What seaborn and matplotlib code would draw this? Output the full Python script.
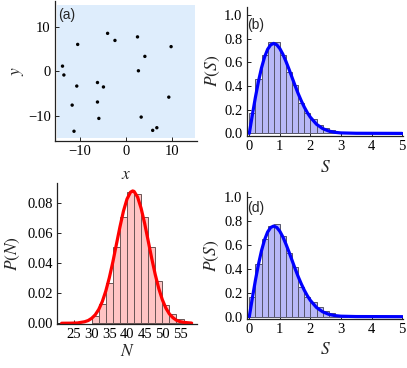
import matplotlib
matplotlib.use("Agg")
import matplotlib.pyplot as plt
from matplotlib.patches import Rectangle
import numpy as np
import seaborn as sns

# (a) positions of the points
pts_x = [-4.0, -2.4, 2.5, 9.8, -10.5, 4.1, -13.8, -13.5, 2.7, -6.2,
         -4.9, -10.7, 9.3, -11.7, -6.2, -5.9, 3.3, -11.3, 6.7, 5.8]
pts_y = [8.6, 7.0, 7.8, 5.6, 6.1, 3.4, 1.2, -0.8, 0.15, -2.5,
         -3.5, -3.3, -5.8, -7.6, -6.9, -10.6, -10.3, -13.5, -12.7, -13.3]

# (b) and (d) spacing histograms, bin width 0.2
s_edges = [0.0, 0.2, 0.4, 0.6, 0.8, 1.0, 1.2, 1.4, 1.6, 1.8, 2.0,
           2.2, 2.4, 2.6, 2.8, 3.0, 3.2]
s_hist_b = [0.169, 0.459, 0.662, 0.769, 0.769, 0.660, 0.520, 0.410,
            0.260, 0.170, 0.120, 0.073, 0.048, 0.030, 0.015, 0.006]
s_hist_d = [0.168, 0.440, 0.648, 0.760, 0.774, 0.676, 0.530, 0.413,
            0.250, 0.168, 0.126, 0.084, 0.050, 0.028, 0.012, 0.005]

# blue theory curve
s_curve = [0.0, 0.1, 0.2, 0.3, 0.4, 0.5, 0.6, 0.7, 0.8, 0.9, 1.0,
           1.1, 1.2, 1.3, 1.4, 1.5, 1.6, 1.7, 1.8, 1.9, 2.0,
           2.2, 2.4, 2.6, 2.8, 3.0, 3.5, 5.0]
p_curve = [0.0, 0.156, 0.305, 0.439, 0.554, 0.645, 0.710, 0.748, 0.760,
           0.748, 0.716, 0.668, 0.608, 0.542, 0.472, 0.402, 0.336,
           0.276, 0.222, 0.175, 0.136, 0.077, 0.041, 0.020, 0.009,
           0.004, 0.001, 0.0]

# (c) number histogram, bin width 2
n_edges = [30, 32, 34, 36, 38, 40, 42, 44, 46, 48, 50, 52, 54, 56]
n_hist = [0.0049, 0.0127, 0.0267, 0.0511, 0.0707, 0.0873, 0.0862,
          0.0707, 0.0511, 0.0284, 0.0122, 0.0060, 0.0027]

# red curve
n_curve = [21.5, 24, 26, 28, 29, 30, 31, 32, 33, 34, 35, 36, 37, 38, 39,
           40, 41, 41.6, 42, 43, 44, 45, 46, 47, 48, 49, 50, 51, 52, 53,
           54, 55, 56, 58.3]
pn_curve = [0.0, 0.00005, 0.0002, 0.0010, 0.0018, 0.0033, 0.0056, 0.0092,
            0.0144, 0.0215, 0.0304, 0.0409, 0.0526, 0.0642, 0.0748,
            0.0828, 0.0874, 0.0882, 0.0879, 0.0841, 0.0766, 0.0665,
            0.0549, 0.0432, 0.0324, 0.0231, 0.0157, 0.0101, 0.0062,
            0.0037, 0.0020, 0.0011, 0.0006, 0.0001]

sns.set_style("ticks")
plt.rcParams['font.family'] = ['Liberation Serif', 'DejaVu Serif']
plt.rcParams['mathtext.fontset'] = 'stix'
plt.rcParams['axes.edgecolor'] = '#222222'
plt.rcParams['axes.linewidth'] = 0.9

fig = plt.figure(figsize=(4.07, 3.68), dpi=100)
W, H = 407.0, 368.0


def add_axes(left, right, bottom, top):
    return fig.add_axes([left / W, (H - bottom) / H, (right - left) / W, (bottom - top) / H])


ax_a = add_axes(55, 197, 141, 1)
ax_b = add_axes(246.7, 403.3, 136, 6.7)
ax_c = add_axes(56.7, 197.3, 324.3, 183.3)
ax_d = add_axes(246.7, 403.3, 319.3, 191.7)

TICK_FS = 10.5
LAB_FS = 12.5
PANEL_FS = 10


def style(ax):
    sns.despine(ax=ax)
    ax.tick_params(direction='in', length=3, width=0.7, labelsize=TICK_FS, pad=3,
                   colors='#222222', labelcolor='black')


# panel (a)
ax_a.add_patch(Rectangle((-15, -15), 30, 30, facecolor='#deedfc', edgecolor='none', zorder=0))
sns.scatterplot(x=pts_x, y=pts_y, ax=ax_a, color='black', s=6, edgecolor='none', zorder=3)
ax_a.set_xlim(-15.43, 15.43)
ax_a.set_ylim(-15.7, 15.9)
ax_a.set_xticks([-10, 0, 10])
ax_a.set_yticks([-10, 0, 10])
ax_a.set_xlabel(r'$x$', fontsize=LAB_FS)
ax_a.set_ylabel(r'$y$', fontsize=LAB_FS)
ax_a.xaxis.set_label_coords(0.5, -0.241)
ax_a.yaxis.set_label_coords(-0.26, 0.5)
ax_a.text(0.02, 0.897, '(a)', transform=ax_a.transAxes, fontsize=PANEL_FS,
          family='Liberation Sans', va='center', ha='left')
style(ax_a)


def spacing_panel(ax, hist, label, ytop, label_y):
    centers = [(s_edges[i] + s_edges[i + 1]) / 2 for i in range(len(hist))]
    sns.histplot(x=centers, weights=hist, bins=s_edges, ax=ax, color='#b8b8f7',
                 edgecolor='#55556a', linewidth=0.7, alpha=1.0)
    sns.lineplot(x=s_curve, y=p_curve, ax=ax, color='#0000ff', lw=2.3)
    ax.set_xlim(-0.085, 5.04)
    ax.set_ylim(-0.022, ytop)
    ax.set_xticks([0, 1, 2, 3, 4, 5])
    ax.set_yticks([0.0, 0.2, 0.4, 0.6, 0.8, 1.0])
    ax.set_yticklabels(['0.0', '0.2', '0.4', '0.6', '0.8', '1.0'])
    ax.set_xlabel(r'$S$', fontsize=LAB_FS)
    ax.set_ylabel(r'$P(S)$', fontsize=LAB_FS)
    ax.text(0.005, label_y, label, transform=ax.transAxes, fontsize=PANEL_FS,
            family='Liberation Sans', va='center', ha='left')
    style(ax)


spacing_panel(ax_b, s_hist_b, '(b)', 1.07, 0.858)
ax_b.xaxis.set_label_coords(0.5, -0.247)
ax_b.yaxis.set_label_coords(-0.215, 0.5)

spacing_panel(ax_d, s_hist_d, '(d)', 1.048, 0.875)
ax_d.xaxis.set_label_coords(0.5, -0.241)
ax_d.yaxis.set_label_coords(-0.222, 0.5)

# panel (c)
n_centers = [(n_edges[i] + n_edges[i + 1]) / 2 for i in range(len(n_hist))]
sns.histplot(x=n_centers, weights=n_hist, bins=n_edges, ax=ax_c, color='#ffc4c4',
             edgecolor='#6a5555', linewidth=0.7, alpha=1.0)
sns.lineplot(x=n_curve, y=pn_curve, ax=ax_c, color='#ff0000', lw=2.3)
ax_c.set_xlim(20.1, 59.9)
ax_c.set_ylim(-0.0007, 0.0933)
ax_c.set_xticks([25, 30, 35, 40, 45, 50, 55])
ax_c.set_yticks([0.0, 0.02, 0.04, 0.06, 0.08])
ax_c.set_yticklabels(['0.00', '0.02', '0.04', '0.06', '0.08'])
ax_c.set_xlabel(r'$N$', fontsize=LAB_FS)
ax_c.set_ylabel(r'$P(N)$', fontsize=LAB_FS)
ax_c.xaxis.set_label_coords(0.5, -0.194)
ax_c.yaxis.set_label_coords(-0.311, 0.5)
style(ax_c)

for ax in [ax_a, ax_b, ax_c, ax_d]:
    ax.xaxis.label.set_va('center')
    ax.yaxis.label.set_va('center')

fig.savefig('out.png', dpi=100)
